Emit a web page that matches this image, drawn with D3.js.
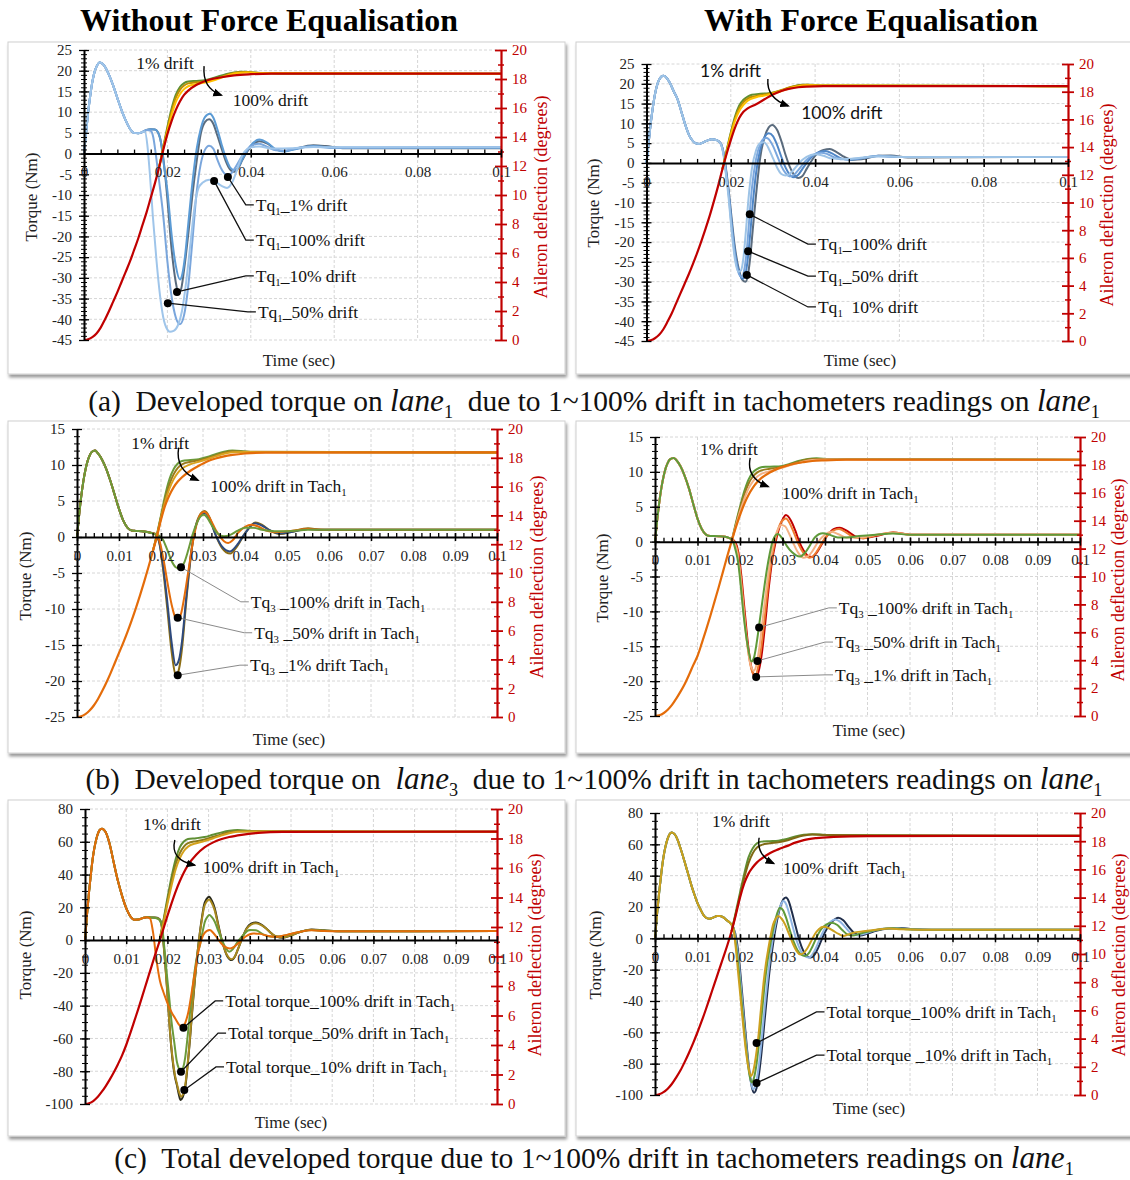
<!DOCTYPE html>
<html><head><meta charset="utf-8">
<script src="https://cdn.jsdelivr.net/npm/d3@7"></script>
<style>body{margin:0;background:#fff}svg{display:block}text{white-space:pre}</style>
</head><body>
<svg id="fig" width="1130" height="1180"></svg>
<script>
// ---------------- tick labels ----------------
const X_VAL_A = [0,20,40,60,80,100];               // ms
const X_LAB_A = ["0","0.02","0.04","0.06","0.08","0.1"];
const X_VAL_BC = [0,10,20,30,40,50,60,70,80,90,100];
const X_LAB_BC = ["0","0.01","0.02","0.03","0.04","0.05","0.06","0.07","0.08","0.09","0.1"];
const Y_TQ_A = [25,20,15,10,5,0,-5,-10,-15,-20,-25,-30,-35,-40,-45];
const Y_TQ_B = [15,10,5,0,-5,-10,-15,-20,-25];
const Y_TQ_C = [80,60,40,20,0,-20,-40,-60,-80,-100];
const Y_DEF = [0,2,4,6,8,10,12,14,16,18,20];

// ---------------- panel (a) left : torque [ms, Nm] ----------------
const AL_pre = [[0,0],[0.5,5],[1,10],[1.5,14],[2,17.3],[2.5,19.6],[3,21],[3.8,22],[4.5,21.6],[5,21],[6,19],[7,16.4],[8,13.4],[9,10.5],[10,8],[11,6],[12,5],[13,4.9],[14,5.2]];
const AL_tq_dark = [[15,5.7],[16,5.9],[17,5.8],[17.7,5.2],[18.3,3.5],[19,-1],[19.5,-5.5],[20,-11],[21,-23],[22,-31],[22.6,-33.5],[23.2,-33],[24,-28],[25,-19.5],[26,-10],[27,-2],[28,4.8],[29,7.6],[30,8.3],[31,7.2],[32,4.3],[33,1.2],[34,-1.8],[35,-3.8],[35.8,-4.4],[37,-3.5],[38,-1.5],[40,1.6],[42,3.0],[44,2.4],[46,1.0],[48,0.6],[50,1.0],[55,2.0],[58,1.8],[62,1.3],[100,1.3]];
const AL_tq_mid = [[15,5.7],[16,5.9],[17,5.8],[17.8,5.0],[18.5,2.5],[19,-1.5],[20,-9],[21,-19.5],[22,-27],[23,-30.4],[23.6,-29],[24.2,-25],[25,-17],[26,-7],[27,1],[28,6],[29,8.8],[30.2,9.6],[31,8.7],[32,5.8],[33,2.2],[34,-1],[35,-3.3],[36,-4.0],[37,-3.3],[38,-1.3],[40,2.0],[42,3.4],[44,2.6],[46,1.0],[48,0.5],[50,0.9],[55,1.8],[60,1.4],[100,1.4]];
const AL_tq_blue = [[15,5.7],[16,5.5],[16.6,4],[17.2,0],[18,-6.5],[19,-15],[20,-26],[21,-34.5],[22,-39.5],[23,-41.2],[24,-39],[25,-32],[26,-21],[27,-9.5],[28,-2.5],[29,0.9],[30,1.9],[31,1.2],[32,-1.5],[33,-3.8],[34,-5],[35,-5],[36,-3.8],[38,-0.5],[40,1.8],[42,2.4],[44,1.6],[46,0.8],[48,0.7],[50,1.1],[55,1.7],[60,1.4],[100,1.5]];
const AL_tq_light = [[14.6,5.3],[15.2,2],[15.8,-5],[16.5,-15],[17.4,-26],[18.2,-34],[19,-39.5],[20,-42.5],[20.6,-43],[21.5,-42.8],[22.5,-41.5],[23.5,-38],[24.5,-31],[25.5,-22],[26.5,-13],[27.5,-8.2],[28.5,-7],[30,-6.3],[31.5,-6.8],[33,-7.8],[34.3,-8.3],[35.5,-7],[36.5,-4.5],[37.5,-1.5],[38.5,0.5],[40,1.5],[42,1.7],[45,1.2],[50,1.3],[55,1.6],[60,1.5],[100,1.5]];
// deflection [ms, deg]
const AL_def_red = [[0,0],[1,0.05],[2,0.2],[3,0.45],[4,0.85],[5,1.4],[6,2.0],[7,2.65],[8,3.3],[9,4.0],[10,4.7],[11,5.4],[12,6.2],[13,7.0],[14,7.9],[15,8.8],[16,9.8],[17,10.8],[18,11.9],[19,13.1],[20,14.2],[21,15.1],[22,15.85],[23,16.45],[24,16.9],[25,17.2],[27,17.6],[30,17.95],[33,18.12],[36,18.25],[40,18.33],[45,18.37],[100,18.37]];
const AL_def_green = [[18,11.9],[19,13.3],[20,14.7],[21,15.95],[22,16.9],[23,17.45],[24,17.72],[25,17.83],[27,17.87],[29,17.92],[30,17.98],[32,18.15],[34,18.33],[36,18.45],[38,18.5],[40,18.47],[43,18.4],[47,18.37],[100,18.37]];
const AL_def_gold = [[18,11.9],[19,13.25],[20,14.55],[21,15.75],[22,16.7],[23,17.25],[24,17.55],[25,17.7],[27,17.78],[29,17.83],[31,17.95],[33,18.15],[35,18.35],[37,18.47],[39,18.48],[42,18.42],[100,18.37]];
const AL_def_yellow = [[18,11.9],[19,13.2],[20,14.4],[21,15.5],[22,16.4],[23,16.95],[24,17.3],[25,17.5],[27,17.65],[29,17.75],[31,17.9],[33,18.1],[35,18.3],[37,18.42],[39,18.45],[42,18.4],[100,18.37]];

// ---------------- panel (a) right ----------------
const AR_pre = [[0,0],[0.5,5],[1,10],[1.5,14],[2,17.3],[2.5,19.6],[3,21],[4,22],[4.7,21.6],[5.5,20.3],[6.5,18],[7.4,16],[8.2,13.2],[9.1,10],[10,7.3],[10.8,5.8],[11.6,5.0],[12.5,4.8],[13.5,5.2],[14.5,5.7],[15.5,6.0],[16.5,5.8],[17.2,5.4]];
const AR_tq_dark = [[17.8,4.5],[18.3,2.5],[18.8,-1],[19.5,-7],[20,-12],[21,-21.5],[22,-27.3],[22.8,-29.6],[23.5,-30],[24,-28.7],[24.6,-24],[25.2,-17],[26,-8],[27,1.5],[28,6.5],[29,9],[29.8,9.6],[31,8.3],[32,5.5],[33,2],[34,-1],[35,-3],[36,-3.8],[37,-3.3],[38,-1.5],[40,1.8],[42,3.3],[43.5,3.5],[45,2.8],[47,1.5],[49,0.8],[51,0.9],[55,1.8],[58,1.9],[62,1.4],[100,1.5]];
const AR_tq_b1 = [[17.8,4.5],[18.3,2.3],[18.8,-1.5],[19.5,-7.5],[20,-13],[21,-22.5],[22,-27.8],[22.8,-29.3],[23.4,-28.5],[24,-24.5],[24.6,-18],[25.2,-10.5],[26,-2.5],[27,3.5],[28,6.5],[29,7.5],[30,6.8],[31,4.5],[32,1.5],[33,-1.2],[34,-3],[35,-3.6],[36,-3],[37,-1.5],[39,1.3],[41,2.8],[42.5,3.0],[44,2.4],[46,1.2],[48,0.8],[50,1.0],[55,1.8],[60,1.5],[100,1.5]];
const AR_tq_b2 = [[17.8,4.4],[18.3,2.1],[18.8,-2],[19.5,-8],[20,-14],[21,-23.5],[22,-28.2],[22.6,-28.8],[23.2,-27],[23.8,-22],[24.4,-14],[25,-6.5],[26,1],[27,4.8],[28,6.2],[28.5,6.3],[29,6],[30,4.3],[31,1.8],[32,-0.8],[33,-2.6],[34,-3.4],[35,-3],[36,-1.8],[38,0.8],[40,2.3],[41.5,2.6],[43,2.2],[45,1.2],[47,0.9],[50,1.1],[55,1.7],[60,1.5],[100,1.5]];
const AR_tq_lt = [[17.8,4.3],[18.3,1.8],[18.8,-2.5],[19.5,-9],[20,-15],[21,-24.5],[21.8,-27.5],[22.4,-27.2],[23,-24],[23.6,-17],[24.2,-9],[25,-1.5],[26,3.2],[27,5],[27.8,5.2],[28.5,4.6],[29,3.6],[30,1.2],[31,-1.2],[32,-2.8],[33,-3.2],[34,-2.8],[35,-1.6],[37,0.8],[39,2.0],[40,2.2],[42,1.8],[44,1.1],[47,1.0],[50,1.2],[55,1.7],[60,1.5],[100,1.5]];
const AR_def_red = [[0,0],[1,0.05],[2,0.2],[3,0.45],[4,0.85],[5,1.4],[6,2.0],[7,2.7],[8,3.4],[9,4.1],[10,4.8],[11,5.55],[12,6.35],[13,7.2],[14,8.1],[15,9.05],[16,10.1],[17,11.2],[18,12.4],[19,13.5],[20,14.5],[21,15.4],[22,16.1],[23,16.55],[24,16.8],[26,17.1],[28,17.45],[30,17.8],[32,18.05],[34,18.22],[36,18.32],[38,18.37],[42,18.4],[100,18.4]];
const AR_def_green = [[18,12.4],[19,13.75],[20,15.05],[21,16.2],[22,17.0],[23,17.42],[24,17.65],[25,17.78],[27,17.85],[29,17.88],[31,18.0],[33,18.2],[35,18.4],[37,18.5],[39,18.5],[42,18.45],[100,18.4]];
const AR_def_gold = [[18,12.4],[19,13.7],[20,14.95],[21,16.05],[22,16.8],[23,17.25],[24,17.5],[26,17.7],[28,17.8],[30,17.92],[32,18.12],[34,18.32],[36,18.45],[38,18.5],[41,18.45],[100,18.4]];
const AR_def_yellow = [[18,12.4],[19,13.6],[20,14.85],[21,15.9],[22,16.6],[23,17.05],[24,17.35],[26,17.6],[28,17.72],[30,17.85],[32,18.05],[34,18.25],[36,18.4],[38,18.47],[41,18.45],[100,18.4]];

// ---------------- panel (b) left ----------------
const BL_pre = [[0,0],[0.5,3],[1,5.6],[1.5,7.7],[2,9.3],[2.5,10.5],[3,11.3],[3.5,11.8],[4.3,12.0],[5,11.6],[6,10.7],[7,9.4],[8,7.7],[9,5.8],[10,3.9],[11,2.3],[12,1.3],[13,0.9],[14,0.85],[16,0.75],[17.5,0.6]];
const BL_tq_green = [[18.5,0.4],[19.5,0.2],[20.5,-0.4],[21.5,-1.8],[22.5,-3.3],[23.5,-4.2],[24.5,-4.4],[25.5,-3.6],[26.5,-1.8],[27.5,0.3],[28.5,1.9],[29.5,2.9],[30.2,3.1],[31,2.7],[32,1.7],[33.5,0.5],[35,0.1],[36.5,0.3],[38,0.8],[40,1.3],[42,1.3],[44,1.0],[47,0.8],[50,0.8],[55,1.0],[60,1.0],[100,1.0]];
const BL_tq_orange = [[18.5,0.45],[19.5,-0.3],[20.5,-2.8],[21.5,-6.2],[22.5,-9.3],[23.5,-11.3],[24,-11.5],[24.8,-10.6],[25.5,-8.5],[26.5,-4.8],[27.5,-1],[28.5,1.8],[29.5,3.2],[30.3,3.5],[31,3.2],[32,2.2],[33,1],[34,0.1],[35,-0.6],[36,-0.85],[37,-0.5],[38.4,0.6],[40,1.4],[41.5,1.7],[43,1.5],[45,0.9],[47,0.7],[50,0.8],[55,1.1],[60,1.0],[100,1.0]];
const BL_tq_navy = [[18.5,0.45],[19.5,-0.5],[20.5,-4],[21.5,-9],[22.5,-14.5],[23.5,-17.8],[24.3,-17],[25,-14.5],[26,-8.5],[27,-3],[28,0.8],[29,2.6],[30.4,3.3],[31.5,2.6],[33,0.3],[34.5,-1.3],[36.4,-2.0],[38,-1.2],[40,0.5],[42.4,1.9],[44,1.6],[46,0.9],[48.5,0.5],[51,0.7],[55,1.1],[58,1.0],[100,1.0]];
const BL_tq_olive = [[18.5,0.45],[19.5,-0.6],[20.5,-4.5],[21.5,-10],[22.5,-15.8],[23.6,-19.2],[24.3,-18.3],[25,-15.5],[26,-9],[27,-3.2],[28,0.8],[29,2.8],[30.4,3.6],[31.5,2.8],[33,0.3],[34.5,-1.5],[36.5,-2.3],[38,-1.4],[40,0.5],[42.5,2.0],[44,1.7],[46,0.9],[48.5,0.4],[51,0.7],[55,1.2],[58,1.0],[100,1.0]];
const BL_def_orange = [[0,0],[1,0.05],[2,0.2],[3,0.45],[4,0.8],[5,1.25],[6,1.8],[7,2.4],[8,3.05],[9,3.75],[10,4.45],[11,5.15],[12,5.9],[13,6.7],[14,7.55],[15,8.45],[16,9.4],[17,10.4],[18,11.45],[19,12.5],[20,13.7],[21,14.7],[22,15.4],[23,15.95],[24,16.35],[25,16.65],[27,17.1],[29,17.45],[31,17.75],[33,17.95],[35,18.1],[37,18.2],[40,18.3],[45,18.36],[100,18.37]];
const BL_def_green = [[18,11.45],[19,12.65],[20,14.0],[21,15.4],[22,16.5],[23,17.2],[24,17.6],[25,17.78],[27,17.85],[29,17.9],[31,18.05],[33,18.25],[35,18.42],[37,18.5],[39,18.48],[42,18.4],[100,18.37]];
const BL_def_olive = [[18,11.45],[19,12.6],[20,13.9],[21,15.15],[22,16.15],[23,16.85],[24,17.3],[25,17.55],[27,17.72],[29,17.82],[31,17.97],[33,18.17],[35,18.35],[37,18.45],[40,18.42],[100,18.37]];
const BL_def_gold = [[18,11.45],[19,12.55],[20,13.8],[21,14.95],[22,15.85],[23,16.5],[24,16.95],[25,17.25],[27,17.55],[29,17.72],[31,17.9],[33,18.1],[35,18.28],[37,18.38],[40,18.4],[100,18.37]];

// ---------------- panel (b) right ----------------
const BR_pre = [[0,0],[0.5,3],[1,5.6],[1.5,7.7],[2,9.3],[2.5,10.5],[3,11.3],[3.5,11.8],[4.4,12.0],[5,11.7],[6,10.8],[7,9.4],[8,7.6],[9,5.4],[10,3.3],[11,1.8],[12,1.0],[13,0.8],[14,0.8],[15,0.78],[16.5,0.7],[17.5,0.5]];
const BR_tq_green = [[18,0.3],[18.5,-0.2],[19,-1.3],[19.6,-3.1],[20.2,-6.5],[20.8,-10.3],[21.4,-13.3],[22,-15.6],[22.7,-17.2],[23.3,-16.6],[23.9,-14.6],[24.5,-12],[25.1,-9.3],[25.7,-6.6],[26.3,-4.1],[27,-1.7],[27.8,0.3],[28.9,1.1],[30,0.4],[31,-0.6],[32.2,-1.5],[34.1,-2.15],[35.3,-1.6],[36.5,-0.5],[37.6,0.6],[39.5,1.2],[41,1.0],[43,0.6],[45,0.6],[48,0.8],[52,1.0],[56,1.15],[60,1.0],[100,1.0]];
const BR_tq_lorange = [[18,0.35],[18.7,-0.3],[19.3,-1.5],[20,-4.6],[20.6,-8.4],[21.3,-12.6],[22,-16],[22.7,-18.1],[23.3,-18.5],[24,-17.3],[24.6,-15],[25.3,-11.4],[26,-7.8],[26.8,-4],[27.6,-1],[28.6,1.3],[29.7,2.4],[30.6,2.2],[31.6,1.1],[32.6,-0.3],[33.6,-1.5],[35,-2.3],[36,-2.1],[37,-1.4],[38.2,-0.2],[40,1.0],[41.5,1.4],[43,1.1],[45,0.6],[48,0.6],[52,1.0],[56,1.25],[60,1.0],[100,1.0]];
const BR_tq_orange = [[18,0.4],[18.8,-0.2],[19.5,-1.6],[20.2,-5],[20.9,-9.5],[21.6,-14],[22.4,-17.5],[23.1,-18.9],[23.7,-19.0],[24.3,-17.9],[25,-15.2],[25.7,-11.5],[26.5,-7],[27.3,-3.2],[28.2,0],[29.2,2.2],[30.3,3.2],[30.8,3.3],[31.8,2.5],[32.8,1.1],[33.8,-0.4],[35,-1.7],[36.3,-2.3],[37.2,-2.1],[38.2,-1.3],[40,0.5],[42,1.6],[43.3,1.8],[45,1.3],[47,0.6],[49,0.5],[52,0.9],[56,1.3],[60,1.0],[100,1.0]];
const BR_tq_red = [[18,0.4],[18.9,-0.1],[19.6,-1.5],[20.3,-4.8],[21,-9.3],[21.8,-14.3],[22.6,-17.8],[23.3,-19.2],[23.9,-19.35],[24.5,-18.3],[25.1,-16.2],[25.8,-12.5],[26.7,-7],[27.5,-3],[28.4,0],[29.3,2.1],[30.2,3.4],[30.8,3.8],[32,3.0],[33,1.6],[34,-0.1],[35,-1.3],[36.1,-2.1],[37,-2.2],[38,-1.6],[40,0.4],[42,1.8],[43.5,2.0],[45,1.6],[47,0.8],[49,0.5],[52,0.8],[56,1.3],[60,1.0],[100,1.0]];
const BR_def_orange = [[0,0],[1,0.05],[2,0.2],[3,0.45],[4,0.8],[5,1.25],[6,1.75],[7,2.3],[8,2.95],[9,3.65],[10,4.3],[11,5.2],[12,6.15],[13,7.15],[14,8.2],[15,9.25],[16,10.35],[17,11.45],[18,12.5],[19,13.5],[20,14.4],[21,15.2],[22,15.85],[23,16.35],[24,16.75],[25,17.05],[27,17.45],[29,17.75],[31,17.95],[33,18.1],[35,18.2],[37,18.28],[40,18.33],[45,18.37],[100,18.37]];
const BR_def_green = [[18,12.5],[19,13.8],[20,15.0],[21,16.1],[22,16.95],[23,17.45],[24,17.7],[25,17.83],[26,17.87],[28,17.88],[30,17.93],[32,18.1],[34,18.3],[36,18.43],[38,18.47],[41,18.42],[100,18.37]];
const BR_def_olive = [[18,12.5],[19,13.7],[20,14.85],[21,15.85],[22,16.65],[23,17.15],[24,17.45],[25,17.6],[27,17.72],[29,17.8],[31,17.95],[33,18.15],[35,18.33],[37,18.43],[40,18.42],[100,18.37]];
const BR_def_lorange = [[18,12.5],[19,13.6],[20,14.65],[21,15.55],[22,16.3],[23,16.8],[24,17.15],[25,17.35],[27,17.55],[29,17.72],[31,17.9],[33,18.08],[35,18.25],[37,18.35],[40,18.38],[100,18.37]];

// ---------------- panel (c) left ----------------
const CL_pre = [[0,0],[0.5,16],[1,30],[1.5,42],[2,52],[2.5,59],[3,64],[3.5,67],[4.1,68],[5,66],[6,58.5],[7,47],[8,36],[9,27],[10,19.5],[11,14.5],[12,12.5],[13,12.6],[14,13.4],[15,14.0]];
const CL_tq_orange = [[15.8,13.2],[16.5,5],[17.4,-13],[18.2,-25],[19,-31.5],[19.5,-35],[20.2,-39.7],[21,-44],[21.9,-47.8],[22.8,-51.5],[23.7,-53.5],[24.4,-50],[25.1,-43.7],[25.7,-35],[26.3,-25.4],[26.9,-16],[27.5,-7.1],[28.1,-1],[28.7,3.1],[29.5,5.5],[30.3,6.1],[31.1,4.5],[31.9,2],[33,-1.8],[33.9,-4],[35.2,-5.1],[36.4,-3.7],[37.6,-1],[39,2.2],[40.8,4.1],[42.5,3.8],[44.5,2.5],[46.5,2.0],[49,3.2],[52,5.0],[55,6.0],[58,5.6],[62,5.4],[100,5.5]];
const CL_tq_green = [[16,13.8],[17,13.5],[18,12.5],[18.6,10],[19.2,-3],[19.8,-19.3],[20.4,-34],[21,-49.8],[21.7,-63],[22.3,-74.2],[22.8,-78.5],[23.2,-80.3],[23.8,-78],[24.3,-72],[24.9,-59],[25.5,-43.7],[26.1,-30],[26.7,-17.3],[27.3,-8.5],[27.9,-3.1],[28.5,4.5],[29.1,11.2],[29.7,14.2],[30.2,15.3],[30.8,14],[31.5,11.2],[32.3,6],[33.1,1],[34,-4],[35,-7.1],[35.9,-5.5],[36.8,-2],[38.2,2.5],[40,6.1],[41.5,6],[43.2,3.5],[45.5,2],[48,2.5],[52,5],[55,6.2],[58,5.7],[62,5.4],[100,5.5]];
const CL_tq_olive = [[16,13.8],[17,13.7],[18,12.8],[18.6,8.5],[19,-1],[19.5,-16],[20,-33],[20.6,-55],[21.2,-71],[21.8,-82],[22.3,-87.5],[22.8,-92.5],[23.3,-95.5],[23.8,-94],[24.3,-89],[24.9,-76],[25.5,-59],[26.1,-40],[26.7,-23],[27.3,-8],[27.9,4.5],[28.4,13],[28.9,20],[29.5,23.5],[30.1,24.8],[30.8,22.5],[31.5,18],[32.3,9.3],[33.1,0.8],[33.8,-5],[34.4,-8.8],[35.6,-11.7],[36.4,-9.8],[37.2,-5],[38.2,1.3],[39.2,6.8],[40.3,9.5],[41.5,10.3],[42.8,9.2],[44,7],[45.3,4],[46.5,2.2],[48,1.7],[50,2.9],[52,4.8],[55,6.3],[58,5.9],[62,5.4],[100,5.5]];
const CL_tq_dark = [[16,13.8],[17,13.8],[18,13],[18.6,9],[19,0],[19.5,-15],[20,-32],[20.6,-55],[21.2,-72],[21.8,-83],[22.3,-88.5],[22.8,-94.5],[23.2,-97.6],[23.7,-96],[24.3,-90.5],[24.9,-77],[25.5,-60],[26.1,-41],[26.7,-23.4],[27.3,-8],[27.9,5.1],[28.4,14],[28.9,21.4],[29.5,25],[30.1,26.4],[30.8,24],[31.5,19.3],[32.3,10],[33.1,1],[33.8,-5],[34.4,-9.2],[35.6,-12.2],[36.4,-10],[37.2,-5.1],[38.2,1.5],[39.2,7.1],[40.3,10],[41.5,10.8],[42.8,9.5],[44,7.1],[45.3,4],[46.5,2],[48,1.5],[50,2.8],[52,4.8],[55,6.5],[58,6],[62,5.4],[100,5.5]];
const CL_def_red = [[0,0],[1,0.05],[2,0.2],[3,0.45],[4,0.8],[5,1.2],[6,1.65],[7,2.15],[8,2.7],[9,3.3],[10,4.0],[11,4.8],[12,5.65],[13,6.5],[14,7.4],[15,8.3],[16,9.2],[17,10.1],[18,10.95],[19,11.85],[20,12.75],[21,13.6],[22,14.4],[23,15.1],[24,15.7],[25,16.2],[27,16.9],[29,17.4],[31,17.72],[33,17.95],[35,18.1],[38,18.25],[42,18.38],[48,18.45],[100,18.46]];
const CL_def_green = [[18,10.95],[19,12.4],[20,13.95],[21,15.4],[22,16.6],[23,17.4],[24,17.8],[25,17.97],[27,18.02],[29,18.1],[31,18.25],[33,18.4],[35,18.52],[37,18.57],[40,18.52],[45,18.47],[100,18.46]];
const CL_def_olive = [[18,10.95],[19,12.3],[20,13.75],[21,15.1],[22,16.25],[23,17.0],[24,17.45],[25,17.68],[27,17.82],[29,17.93],[31,18.1],[33,18.28],[35,18.42],[37,18.5],[40,18.5],[100,18.46]];
const CL_def_gold = [[18,10.95],[19,12.2],[20,13.55],[21,14.8],[22,15.9],[23,16.65],[24,17.15],[25,17.45],[27,17.68],[29,17.82],[31,18.0],[33,18.2],[35,18.36],[37,18.45],[40,18.47],[100,18.46]];

// ---------------- panel (c) right ----------------
const CR_pre = [[0,0],[0.5,16],[1,30],[1.5,42],[2,52],[2.5,59],[3,63.8],[3.9,67.5],[4.6,66.5],[5.3,63],[6,57.5],[6.9,49.5],[7.8,41],[8.6,33.5],[9.4,27],[10,22.5],[10.6,19],[11.5,14.5],[12.2,12.9],[12.9,12.5],[13.8,13.4],[14.6,14.2],[15.3,14.3],[16.2,13.2],[16.9,11.5],[17.6,10]];
const CR_tq_gold = [[18.4,6.8],[19,-6],[19.6,-23],[20.2,-40],[20.8,-57],[21.4,-72],[22,-82.6],[22.5,-87.9],[23.1,-85],[23.7,-76],[24.3,-63.4],[24.9,-46],[25.5,-29.4],[26.1,-16],[26.7,-6],[27.2,1.5],[27.8,8.9],[28.4,12.5],[29,14.3],[29.8,12.5],[30.6,8.9],[31.5,3],[32.5,-3.8],[33.3,-8],[34.1,-10.2],[34.9,-9.5],[35.7,-7],[36.6,-2.5],[37.6,2.6],[38.6,6],[39.6,7.4],[40.8,6.6],[42,4.7],[43.2,2.8],[44.3,1.5],[45.5,2.5],[46.7,3.6],[49,4.5],[52,5.5],[55,6.3],[58,5.8],[62,5.5],[100,5.5]];
const CR_tq_green = [[18.4,7],[19,-3],[19.7,-20],[20.3,-38],[20.9,-56],[21.5,-72],[22.1,-85],[22.7,-92],[23.3,-89],[23.9,-80],[24.5,-66],[25.1,-49],[25.7,-32],[26.3,-18],[26.9,-7.5],[27.5,1.5],[28.1,9.5],[28.7,15.5],[29.4,19.6],[30.1,18],[30.8,13.5],[31.7,5.5],[32.6,-2],[33.5,-7.5],[34.4,-10.5],[35.3,-11.3],[36.2,-9.5],[37,-5.5],[38,0.5],[39,5.5],[40.3,8.8],[41.6,10],[42.9,8.5],[44,5.5],[45.3,2.5],[46.6,1.8],[48,2.8],[50,4.2],[53,5.8],[56,6.4],[59,5.8],[63,5.5],[100,5.5]];
const CR_tq_blue = [[18.4,7.2],[19.1,-2],[19.8,-18],[20.4,-36],[21,-55],[21.6,-72],[22.2,-86],[22.7,-93.5],[23.1,-96.4],[23.7,-93],[24.3,-84],[24.9,-70],[25.5,-53],[26.1,-36],[26.7,-21],[27.3,-8],[27.9,2.5],[28.5,11],[29.2,18.5],[29.8,22.5],[30.2,23.8],[30.9,21.5],[31.6,15.5],[32.5,6.5],[33.4,-2],[34.3,-8],[35.2,-11.3],[36.1,-12.3],[37,-10.5],[37.9,-6],[38.9,0.5],[40,6.5],[41.2,10.5],[42.4,12.1],[43.6,10.5],[44.8,7],[46,3.5],[47.5,2],[49,2.8],[51,4.5],[54,6.2],[57,6.5],[60,5.8],[64,5.5],[100,5.5]];
const CR_tq_dark = [[18.4,7.2],[19.2,-1],[19.9,-17],[20.5,-35],[21.1,-54],[21.7,-72],[22.3,-86.5],[22.8,-95],[23.3,-98.5],[23.9,-95.5],[24.5,-86],[25.1,-72],[25.7,-55],[26.3,-38],[26.9,-22],[27.5,-9],[28.1,2],[28.7,11],[29.4,19.5],[30.1,24.5],[30.8,26],[31.5,23.5],[32.2,17],[33.1,7.5],[34,-1.5],[34.9,-8],[35.8,-11.5],[36.6,-12.3],[37.5,-10.5],[38.4,-6],[39.4,0.5],[40.5,6.5],[41.8,11],[43.1,13.2],[44.3,11.5],[45.5,7.5],[46.8,3.5],[48.3,1.8],[50,3],[52,4.8],[55,6.3],[58,6.6],[61,5.8],[65,5.5],[100,5.5]];
const CR_def_red = [[0,0],[1,0.05],[2,0.2],[3,0.45],[4,0.8],[5,1.25],[6,1.75],[7,2.35],[8,3.0],[9,3.7],[10,4.45],[11,5.25],[12,6.1],[13,7.0],[14,7.9],[15,8.8],[16,9.7],[17,10.6],[18,11.6],[19,12.75],[20,14.0],[21,15.0],[22,15.7],[23,16.15],[24,16.5],[25,16.75],[27,17.15],[29,17.42],[31,17.65],[33,17.9],[35,18.08],[38,18.22],[42,18.3],[50,18.36],[100,18.38]];
const CR_def_green = [[18,11.6],[19,12.95],[20,14.35],[21,15.7],[22,16.85],[23,17.5],[24,17.85],[25,17.97],[27,18.0],[29,18.03],[31,18.15],[33,18.33],[35,18.45],[37,18.5],[40,18.45],[45,18.4],[100,18.38]];
const CR_def_olive = [[18,11.6],[19,12.85],[20,14.15],[21,15.4],[22,16.45],[23,17.15],[24,17.55],[25,17.72],[27,17.85],[29,17.92],[31,18.05],[33,18.25],[35,18.4],[37,18.47],[40,18.44],[100,18.38]];

// ---------------- text ----------------
const TITLES = ["Without Force Equalisation","With Force Equalisation"];
const CAPTIONS = [
  "(a)  Developed torque on [lane]{1}  due to 1~100% drift in tachometers readings on [lane]{1}",
  "(b)  Developed torque on  [lane]{3}  due to 1~100% drift in tachometers readings on [lane]{1}",
  "(c)  Total developed torque due to 1~100% drift in tachometers readings on [lane]{1}"];

// ---------------- helpers ----------------
const SERIF = "'Liberation Serif','Times New Roman',serif";
const SANS = "Lato,'Liberation Sans',sans-serif";
const RED = "#c00000";
const svg = d3.select("#fig");
svg.append("rect").attr("width",1130).attr("height",1180).attr("fill","#fff");
const defs = svg.append("defs");
const f = defs.append("filter").attr("id","sh").attr("x","-5%").attr("y","-5%").attr("width","110%").attr("height","115%");
f.append("feDropShadow").attr("dx",1.5).attr("dy",3).attr("stdDeviation",1.6).attr("flood-color","#000").attr("flood-opacity",0.4);
defs.append("marker").attr("id","arr").attr("viewBox","0 0 10 10").attr("refX",8).attr("refY",5)
  .attr("markerWidth",7).attr("markerHeight",7).attr("orient","auto")
  .append("path").attr("d","M0,1 L10,5 L0,9 Z").attr("fill","#000");

function rich(sel, str){
  const parts = str.split(/(\[[^\]]*\]|\{[^}]*\})/).filter(s=>s.length);
  let shift = 0; // in base em
  const SUB = 0.24;
  parts.forEach(s=>{
    const t = sel.append("tspan");
    if (s[0]==="{"){
      const r = 0.62;
      t.text(s.slice(1,-1)).attr("font-size", r+"em").attr("dy", ((SUB-shift)/r).toFixed(3)+"em");
      shift = SUB;
    } else {
      let r = 1;
      if (s[0]==="["){ r = 1.06; t.text(s.slice(1,-1)).attr("font-style","italic").attr("font-size", r+"em"); }
      else t.text(s);
      if (shift){ t.attr("dy", (-shift/r).toFixed(3)+"em"); shift = 0; }
    }
  });
  return sel;
}
function fit(sel, target){
  const n = sel.node(); const w = n.getComputedTextLength();
  if (w > 0){ const fs = parseFloat(sel.attr("font-size")); sel.attr("font-size", (fs*target/w).toFixed(2)); }
}

function drawPanel(p){
  const g = svg.append("g");
  g.append("rect").attr("x",p.box[0]).attr("y",p.box[1]).attr("width",p.box[2]).attr("height",p.box[3])
    .attr("fill","#fff").attr("stroke","#d0d0d0").attr("filter","url(#sh)");
  const yT = p.yTicks;
  const x = d3.scaleLinear().domain([0,100]).range([p.x0,p.x1]);
  const y = d3.scaleLinear().domain([yT[yT.length-1], yT[0]]).range([p.yBot,p.yTop]);
  const y2 = d3.scaleLinear().domain([0,20]).range([p.yBot,p.yTop]);
  // grid
  const grid = g.append("g").attr("stroke","#d6d6d6").attr("stroke-width",1).attr("stroke-dasharray","3,2");
  yT.forEach(v=>{ if (v!==0) grid.append("line").attr("x1",p.x0).attr("x2",p.x1).attr("y1",y(v)).attr("y2",y(v)); });
  p.xTicks.forEach(v=>{ if (v>0 && v<100) grid.append("line").attr("x1",x(v)).attr("x2",x(v)).attr("y1",p.yTop).attr("y2",p.yBot); });
  // curves
  const ln = d3.line().x(d=>x(d[0])).y(d=>y(d[1])).curve(d3.curveMonotoneX);
  const ln2 = d3.line().x(d=>x(d[0])).y(d=>y2(d[1])).curve(d3.curveMonotoneX);
  p.torque.forEach(s=>g.append("path").attr("d",ln(s.data)).attr("fill","none").attr("stroke",s.c).attr("stroke-width",s.w||2).attr("stroke-linejoin","round"));
  p.defl.forEach(s=>g.append("path").attr("d",ln2(s.data)).attr("fill","none").attr("stroke",s.c).attr("stroke-width",s.w||2).attr("stroke-linejoin","round"));
  // left axis
  const la = g.append("g").attr("transform",`translate(${p.x0},0)`)
    .call(d3.axisLeft(y).tickValues(yT).tickFormat((d,i)=>p.yLabels[i]).tickSize(5).tickSizeOuter(0).tickPadding(7));
  la.selectAll(".tick line").attr("x1",5).attr("stroke","#000").attr("stroke-width",1.3);
  la.select(".domain").attr("stroke","#000").attr("stroke-width",2);
  la.selectAll("text").attr("font-family",SERIF).attr("font-size",15).attr("fill","#222");
  const lm = g.append("g").attr("transform",`translate(${p.x0},0)`)
    .call(d3.axisLeft(y).tickValues(d3.range(yT[yT.length-1], yT[0]+1e-6, p.yMinor)).tickFormat("").tickSize(3).tickSizeOuter(0));
  lm.select(".domain").remove(); lm.selectAll(".tick line").attr("x1",3).attr("stroke","#000");
  // right axis
  const ra = g.append("g").attr("transform",`translate(${p.x1},0)`)
    .call(d3.axisRight(y2).tickValues(Y_DEF).tickFormat((d,i)=>String(Y_DEF[i])).tickSize(6).tickSizeOuter(0).tickPadding(5));
  ra.selectAll(".tick line").attr("x1",-6).attr("stroke",RED).attr("stroke-width",1.8);
  ra.select(".domain").attr("stroke",RED).attr("stroke-width",2.2);
  ra.selectAll("text").attr("font-family",SERIF).attr("font-size",15).attr("fill",RED);
  const rm = g.append("g").attr("transform",`translate(${p.x1},0)`)
    .call(d3.axisRight(y2).tickValues(d3.range(1,20,2)).tickFormat("").tickSize(3).tickSizeOuter(0));
  rm.select(".domain").remove(); rm.selectAll(".tick line").attr("x1",-3).attr("stroke",RED).attr("stroke-width",1.5);
  // zero-line time axis
  const ba = g.append("g").attr("transform",`translate(0,${y(0)})`)
    .call(d3.axisBottom(x).tickValues(p.xTicks).tickFormat((d,i)=>p.xLabels[i]).tickSize(4).tickSizeOuter(0).tickPadding(9));
  ba.selectAll(".tick line").attr("y1",-4).attr("stroke","#000").attr("stroke-width",1.5);
  ba.select(".domain").attr("stroke","#000").attr("stroke-width",2);
  ba.selectAll("text").attr("font-family",SERIF).attr("font-size",15).attr("fill","#222");
  const bm = g.append("g").attr("transform",`translate(0,${y(0)})`)
    .call(d3.axisTop(x).tickValues(d3.range(0,100.001,p.xMinor)).tickFormat("").tickSize(4).tickSizeOuter(0));
  bm.select(".domain").remove(); bm.selectAll(".tick line").attr("stroke","#000").attr("stroke-width",1.3);
  // axis titles
  g.append("text").attr("transform",`translate(${p.tq[0]},${p.tq[1]}) rotate(-90)`).attr("text-anchor","middle")
    .attr("font-family",SERIF).attr("font-size",17).attr("fill","#222").text("Torque (Nm)");
  g.append("text").attr("transform",`translate(${p.ai[0]},${p.ai[1]}) rotate(-90)`).attr("text-anchor","middle")
    .attr("font-family",SERIF).attr("font-size",18).attr("fill",RED).text("Aileron deflection (degrees)");
  g.append("text").attr("x",p.tm[0]).attr("y",p.tm[1]).attr("text-anchor","middle")
    .attr("font-family",SERIF).attr("font-size",17).attr("fill","#222").text("Time (sec)");
  // annotations
  const n = p.notes;
  n.texts.forEach(t=>rich(g.append("text").attr("x",x(t.t)).attr("y",y(t.v)).attr("font-family",t.font||SERIF).attr("font-size",17.5).attr("fill","#111"), t.s));
  const a = n.arrow;
  g.append("path").attr("d",`M${x(a.s[0])},${y(a.s[1])} Q${x(a.c[0])},${y(a.c[1])} ${x(a.e[0])},${y(a.e[1])}`)
    .attr("fill","none").attr("stroke","#000").attr("stroke-width",1.4).attr("marker-end","url(#arr)");
  n.leaders.forEach(l=>{
    const dx = x(l.d[0]), dy = y(l.d[1]), ex = x(l.e[0]), ey = y(l.e[1]);
    g.append("path").attr("d",`M${dx},${dy} L${ex},${ey} L${ex+8},${ey}`).attr("fill","none")
      .attr("stroke",n.lc).attr("stroke-width",n.lw);
    g.append("circle").attr("cx",dx).attr("cy",dy).attr("r",4).attr("fill","#000");
    rich(g.append("text").attr("x",ex+10).attr("y",ey+6).attr("font-family",SERIF).attr("font-size",17.5).attr("fill","#111"), l.s);
  });
}

const GREEN="#5f8f34", GOLD="#bf9000", YEL="#ffc000";
const panels = [
 {box:[8,42,557,332], x0:84, x1:501, yTop:50, yBot:340, yTicks:Y_TQ_A, yLabels:Y_TQ_A.map(String), yMinor:1,
  xTicks:X_VAL_A, xLabels:X_LAB_A, xMinor:4, tq:[37,197], ai:[547,197], tm:[299,366],
  torque:[{c:"#5a6b7d",data:AL_pre.concat(AL_tq_dark)},{c:"#5b9bd5",data:AL_pre.concat(AL_tq_mid)},
          {c:"#7aa6dc",data:AL_pre.concat(AL_tq_blue)},{c:"#9fc5ea",data:AL_pre.concat(AL_tq_light)}],
  defl:[{c:GREEN,data:AL_def_green},{c:GOLD,data:AL_def_gold},{c:YEL,data:AL_def_yellow},{c:RED,data:AL_def_red,w:2.2}],
  notes:{lc:"#111",lw:1.3,texts:[{t:12.5,v:20.4,s:"1% drift"},{t:35.7,v:11.5,s:"100% drift"}],
   arrow:{s:[28.8,21.1],c:[28.3,15.8],e:[32.9,14.1]},
   leaders:[{d:[34.5,-5.65],e:[38.8,-12.4],s:"Tq{1}_1% drift"},{d:[31.2,-6.6],e:[38.8,-20.9],s:"Tq{1}_100% drift"},
            {d:[22.3,-33.4],e:[38.8,-29.5],s:"Tq{1}_10% drift"},{d:[20.1,-36.1],e:[39.3,-38.2],s:"Tq{1}_50% drift"}]}},
 {box:[576,42,560,332], x0:646.5, x1:1068, yTop:64, yBot:341, yTicks:Y_TQ_A, yLabels:Y_TQ_A.map(String), yMinor:1,
  xTicks:X_VAL_A, xLabels:X_LAB_A, xMinor:4, tq:[599,203], ai:[1113,205], tm:[860,366],
  torque:[{c:"#5a6b7d",data:AR_pre.concat(AR_tq_dark)},{c:"#4f86c6",data:AR_pre.concat(AR_tq_b1)},
          {c:"#7aa7de",data:AR_pre.concat(AR_tq_b2)},{c:"#9dc3e6",data:AR_pre.concat(AR_tq_lt)}],
  defl:[{c:GREEN,data:AR_def_green},{c:GOLD,data:AR_def_gold},{c:YEL,data:AR_def_yellow},{c:RED,data:AR_def_red,w:2.2}],
  notes:{lc:"#111",lw:1.3,texts:[{t:12.7,v:21.7,s:"1% drift",font:SANS},{t:36.7,v:11.1,s:"100% drift",font:SANS}],
   arrow:{s:[28.8,21.2],c:[28.4,16.4],e:[33.6,14.4]},
   leaders:[{d:[24.5,-13.0],e:[38.3,-20.5],s:"Tq{1}_100% drift"},{d:[24.1,-22.3],e:[38.3,-28.6],s:"Tq{1}_50% drift"},
            {d:[23.8,-28.3],e:[38.3,-36.4],s:"Tq{1}  10% drift"}]}},
 {box:[8,421,557,332], x0:77, x1:497, yTop:429, yBot:717, yTicks:Y_TQ_B, yLabels:Y_TQ_B.map(String), yMinor:1,
  xTicks:X_VAL_BC, xLabels:X_LAB_BC, xMinor:2, tq:[31,576], ai:[543,577], tm:[289,745],
  torque:[{c:"#8c6d14",data:BL_pre.concat(BL_tq_olive)},{c:"#2e4a7d",data:BL_pre.concat(BL_tq_navy)},
          {c:"#e46c0a",data:BL_pre.concat(BL_tq_orange)},{c:"#6b9a3a",data:BL_pre.concat(BL_tq_green)}],
  defl:[{c:"#6b9a3a",data:BL_def_green},{c:"#9a7b1c",data:BL_def_olive},{c:"#d9a21f",data:BL_def_gold},{c:"#e46c0a",data:BL_def_orange,w:2.2}],
  notes:{lc:"#8a8a8a",lw:1,texts:[{t:12.9,v:12.2,s:"1% drift"},{t:31.7,v:6.25,s:"100% drift in Tach{1}"}],
   arrow:{s:[24.2,12.4],c:[23.3,9.3],e:[28.8,7.9]},
   leaders:[{d:[24.76,-4.2],e:[39.0,-9.0],s:"Tq{3} _100% drift in Tach{1}"},{d:[23.98,-11.2],e:[39.8,-13.3],s:"Tq{3} _50% drift in Tach{1}"},
            {d:[23.98,-19.2],e:[38.8,-17.8],s:"Tq{3} _1% drift Tach{1}"}]}},
 {box:[576,421,560,332], x0:655, x1:1080, yTop:437, yBot:716, yTicks:Y_TQ_B, yLabels:Y_TQ_B.map(String), yMinor:1,
  xTicks:X_VAL_BC, xLabels:X_LAB_BC, xMinor:2, tq:[608,578], ai:[1124,580], tm:[869,736],
  torque:[{c:"#c00000",data:BR_pre.concat(BR_tq_red)},{c:"#ed7d31",data:BR_pre.concat(BR_tq_orange)},
          {c:"#f4b183",data:BR_pre.concat(BR_tq_lorange)},{c:"#5f9a3a",data:BR_pre.concat(BR_tq_green)}],
  defl:[{c:"#5f9a3a",data:BR_def_green},{c:"#9a7b1c",data:BR_def_olive},{c:"#f4b183",data:BR_def_lorange},{c:"#e46c0a",data:BR_def_orange,w:2.2}],
  notes:{lc:"#8a8a8a",lw:1,texts:[{t:10.6,v:12.4,s:"1% drift"},{t:29.9,v:6.1,s:"100% drift in Tach{1}"}],
   arrow:{s:[22.4,12.0],c:[21.4,9.1],e:[26.6,7.9]},
   leaders:[{d:[24.5,-12.3],e:[40.9,-9.5],s:"Tq{3} _100% drift in Tach{1}"},{d:[24.1,-17.1],e:[40.0,-14.4],s:"Tq{3} _50% drift in Tach{1}"},
            {d:[23.8,-19.4],e:[40.0,-19.1],s:"Tq{3} _1% drift in Tach{1}"}]}},
 {box:[8,800,557,336], x0:85, x1:497, yTop:809, yBot:1104, yTicks:Y_TQ_C, yLabels:Y_TQ_C.map(String), yMinor:5,
  xTicks:X_VAL_BC, xLabels:X_LAB_BC, xMinor:2, tq:[31,955], ai:[541,955], tm:[291,1128],
  torque:[{c:"#2a2a1c",data:CL_pre.concat(CL_tq_dark)},{c:"#a8891e",data:CL_pre.concat(CL_tq_olive)},
          {c:"#6b9a3a",data:CL_pre.concat(CL_tq_green)},{c:"#e46c0a",data:CL_pre.concat(CL_tq_orange)}],
  defl:[{c:"#5f8f34",data:CL_def_green},{c:"#8c7a1a",data:CL_def_olive},{c:"#d4a21c",data:CL_def_gold},{c:RED,data:CL_def_red,w:2.2}],
  notes:{lc:"#111",lw:1.3,texts:[{t:14.1,v:67.2,s:"1% drift"},{t:28.6,v:41.0,s:"100% drift in Tach{1}"}],
   arrow:{s:[21.8,61.1],c:[20.6,48.9],e:[26.6,45.8]},
   leaders:[{d:[23.9,-53.4],e:[31.6,-37.1],s:"Total torque_100% drift in Tach{1}"},{d:[23.3,-80.3],e:[32.3,-56.7],s:"Total torque_50% drift in Tach{1}"},
            {d:[24.1,-91.4],e:[31.8,-77.4],s:"Total torque_10% drift in Tach{1}"}]}},
 {box:[576,800,560,336], x0:655, x1:1080, yTop:813, yBot:1095, yTicks:Y_TQ_C, yLabels:Y_TQ_C.map(String), yMinor:5,
  xTicks:X_VAL_BC, xLabels:X_LAB_BC, xMinor:2, tq:[601,955], ai:[1125,955], tm:[869,1114],
  torque:[{c:"#1f2d4a",data:CR_pre.concat(CR_tq_dark)},{c:"#8eb4e3",data:CR_pre.concat(CR_tq_blue)},
          {c:"#5f9a3a",data:CR_pre.concat(CR_tq_green)},{c:"#cca01e",data:CR_pre.concat(CR_tq_gold)}],
  defl:[{c:"#5f8f34",data:CR_def_green},{c:"#7f6a14",data:CR_def_olive},{c:RED,data:CR_def_red,w:2.2}],
  notes:{lc:"#111",lw:1.3,texts:[{t:13.4,v:71.1,s:"1% drift"},{t:30.1,v:41.1,s:"100% drift  Tach{1}"}],
   arrow:{s:[24.5,64.2],c:[23.8,53.2],e:[27.9,47.9]},
   leaders:[{d:[23.9,-66.8],e:[38.0,-47.0],s:"Total torque_100% drift in Tach{1}"},{d:[23.9,-92.3],e:[38.0,-74.5],s:"Total torque _10% drift in Tach{1}"}]}}
];
panels.forEach(drawPanel);

// titles & captions
const t1 = svg.append("text").attr("x",269).attr("y",31).attr("text-anchor","middle").attr("font-family",SERIF)
  .attr("font-weight","bold").attr("font-size",27).attr("fill","#000").text(TITLES[0]); fit(t1,378);
const t2 = svg.append("text").attr("x",871).attr("y",31).attr("text-anchor","middle").attr("font-family",SERIF)
  .attr("font-weight","bold").attr("font-size",27).attr("fill","#000").text(TITLES[1]); fit(t2,334);
const capY = [411,789,1168], capW = [1012,1017,960];
CAPTIONS.forEach((c,i)=>{
  const t = rich(svg.append("text").attr("x",594).attr("y",capY[i]).attr("text-anchor","middle")
    .attr("font-family",SERIF).attr("font-size",24).attr("fill","#111"), c);
  fit(t, capW[i]);
});
</script></body></html>
